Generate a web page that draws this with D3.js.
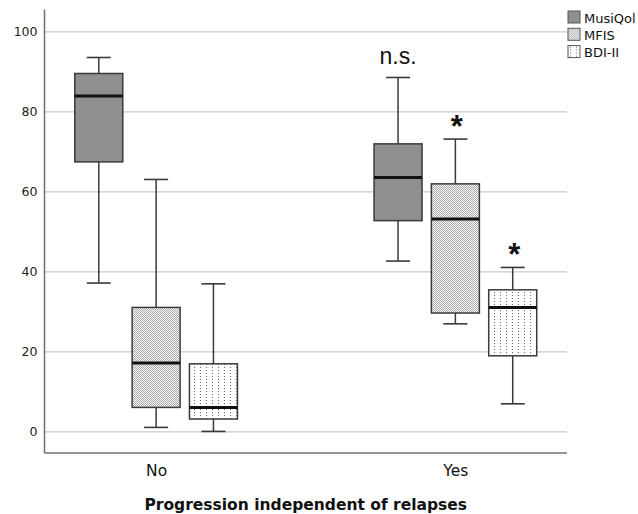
<!DOCTYPE html>
<html>
<head>
<meta charset="utf-8">
<script src="https://cdn.jsdelivr.net/npm/d3@7"></script>
<style>
  html, body { margin: 0; padding: 0; background: #fff; }
  svg { display: block; }
</style>
</head>
<body>
<svg id="chart" width="638" height="514"></svg>
<script>
// Groups on the x axis and the three measures shown side by side
const groups = ["No", "Yes"];
const seriesNames = ["MusiQol", "MFIS", "BDI-II"];

// Five-number summaries [min, q1, median, q3, max] per group
const musiqol = [[37.2, 67.5, 84.0, 89.6, 93.6], [42.7, 52.8, 63.6, 72.0, 88.6]];
const mfis    = [[1.1, 6.1, 17.2, 31.1, 63.1],   [27.0, 29.7, 53.2, 62.0, 73.2]];
const bdi     = [[0.1, 3.2, 6.1, 17.0, 37.0],    [7.0, 19.0, 31.1, 35.5, 41.1]];

const yTicks = [0, 20, 40, 60, 80, 100];

// Significance markers placed above the upper whisker
const annotations = [
  { group: "Yes", series: "MusiQol", label: "n.s." },
  { group: "Yes", series: "MFIS", label: "*" },
  { group: "Yes", series: "BDI-II", label: "*" }
];

const xTitle = "Progression independent of relapses";

const summaries = { "MusiQol": musiqol, "MFIS": mfis, "BDI-II": bdi };

const svg = d3.select("#chart");

const plot = { left: 44.5, right: 567, top: 9.5, bottom: 453 };

const y = d3.scaleLinear().domain([-5.3, 105.6]).range([plot.bottom, plot.top]);
const x = d3.scalePoint().domain(groups).range([plot.left, plot.right]).padding(0.373);
const xs = d3.scaleBand().domain(seriesNames).range([-86, 86]);
const boxW = 48, capW = 24;

// Fill patterns
const defs = svg.append("defs");
const pm = defs.append("pattern").attr("id", "pat-mfis")
  .attr("patternUnits", "userSpaceOnUse").attr("width", 2).attr("height", 2);
pm.append("rect").attr("width", 2).attr("height", 2).attr("fill", "#fff");
pm.append("rect").attr("x", 0).attr("y", 0).attr("width", 1).attr("height", 1).attr("fill", "#a6a6a6");
pm.append("rect").attr("x", 1).attr("y", 1).attr("width", 1).attr("height", 1).attr("fill", "#a6a6a6");

const pb = defs.append("pattern").attr("id", "pat-bdi")
  .attr("patternUnits", "userSpaceOnUse").attr("width", 6).attr("height", 3);
pb.append("rect").attr("width", 6).attr("height", 3).attr("fill", "#fff");
pb.append("rect").attr("x", 2).attr("y", 1).attr("width", 1).attr("height", 1).attr("fill", "#6e6e6e");

const fills = { "MusiQol": "#8f8f8f", "MFIS": "url(#pat-mfis)", "BDI-II": "url(#pat-bdi)" };

// Gridlines
svg.append("g").selectAll("line").data(yTicks).join("line")
  .attr("x1", plot.left).attr("x2", plot.right)
  .attr("y1", d => y(d)).attr("y2", d => y(d))
  .attr("stroke", "#c9c9c9").attr("stroke-width", 1.3);

// Y axis
const yAxis = svg.append("g").attr("transform", `translate(${plot.left},0)`)
  .call(d3.axisLeft(y).tickValues(yTicks).tickSize(0).tickPadding(7));
yAxis.select(".domain").remove();
yAxis.selectAll("text").attr("font-family", "DejaVu Sans, sans-serif")
  .attr("font-size", 12.5).attr("fill", "#222");
svg.append("line").attr("x1", plot.left).attr("x2", plot.left)
  .attr("y1", plot.top).attr("y2", plot.bottom)
  .attr("stroke", "#707070").attr("stroke-width", 1.5);

// X axis
const xAxis = svg.append("g").attr("transform", `translate(0,${plot.bottom})`)
  .call(d3.axisBottom(x).tickSize(0).tickPadding(12));
xAxis.select(".domain").attr("stroke", "#707070").attr("stroke-width", 1.5)
  .attr("d", `M${plot.left},0H${plot.right}`);
xAxis.selectAll("text").attr("font-family", "DejaVu Sans, sans-serif")
  .attr("font-size", 15.5).attr("fill", "#111");

svg.append("text").attr("x", (plot.left + plot.right) / 2).attr("y", 510)
  .attr("text-anchor", "middle").attr("font-family", "DejaVu Sans, sans-serif")
  .attr("font-weight", "bold").attr("font-size", 15.5).attr("fill", "#111")
  .text(xTitle);

// Boxes
const boxes = [];
groups.forEach((g, gi) => seriesNames.forEach(s => {
  const [mn, q1, md, q3, mx] = summaries[s][gi];
  boxes.push({ g, s, mn, q1, md, q3, mx, cx: x(g) + xs(s) + xs.bandwidth() / 2 });
}));

const stroke = "#3a3a3a";
const bg = svg.append("g").selectAll("g").data(boxes).join("g");
bg.append("line").attr("x1", d => d.cx).attr("x2", d => d.cx)
  .attr("y1", d => y(d.mx)).attr("y2", d => y(d.q3)).attr("stroke", stroke).attr("stroke-width", 1.5);
bg.append("line").attr("x1", d => d.cx).attr("x2", d => d.cx)
  .attr("y1", d => y(d.q1)).attr("y2", d => y(d.mn)).attr("stroke", stroke).attr("stroke-width", 1.5);
bg.append("line").attr("x1", d => d.cx - capW / 2).attr("x2", d => d.cx + capW / 2)
  .attr("y1", d => y(d.mx)).attr("y2", d => y(d.mx)).attr("stroke", stroke).attr("stroke-width", 1.6);
bg.append("line").attr("x1", d => d.cx - capW / 2).attr("x2", d => d.cx + capW / 2)
  .attr("y1", d => y(d.mn)).attr("y2", d => y(d.mn)).attr("stroke", stroke).attr("stroke-width", 1.6);
bg.append("rect").attr("x", d => d.cx - boxW / 2).attr("width", boxW)
  .attr("y", d => y(d.q3)).attr("height", d => y(d.q1) - y(d.q3))
  .attr("fill", d => fills[d.s]).attr("stroke", stroke).attr("stroke-width", 1.5);
bg.append("line").attr("x1", d => d.cx - boxW / 2).attr("x2", d => d.cx + boxW / 2)
  .attr("y1", d => y(d.md)).attr("y2", d => y(d.md)).attr("stroke", "#111").attr("stroke-width", 3);

// Significance labels
annotations.forEach(a => {
  const b = boxes.find(d => d.g === a.group && d.s === a.series);
  const star = a.label === "*";
  svg.append("text").attr("x", b.cx + (star ? 1.5 : 0))
    .attr("y", y(b.mx) - (star ? 2 : 13))
    .attr("text-anchor", "middle")
    .attr("font-family", "Liberation Sans, Arial, sans-serif")
    .attr("font-weight", star ? "bold" : "normal")
    .attr("font-size", star ? 31 : 23).attr("fill", "#111")
    .text(a.label);
});

// Legend
const lg = svg.append("g").attr("transform", "translate(568,11)");
const li = lg.selectAll("g").data(seriesNames).join("g")
  .attr("transform", (d, i) => `translate(0,${i * 17.3})`);
li.append("rect").attr("width", 12).attr("height", 12)
  .attr("fill", d => fills[d]).attr("stroke", "#555").attr("stroke-width", 1);
li.append("text").attr("x", 16).attr("y", 11.5)
  .attr("font-family", "DejaVu Sans, sans-serif").attr("font-size", 13).attr("fill", "#111")
  .text(d => d);
</script>
</body>
</html>
